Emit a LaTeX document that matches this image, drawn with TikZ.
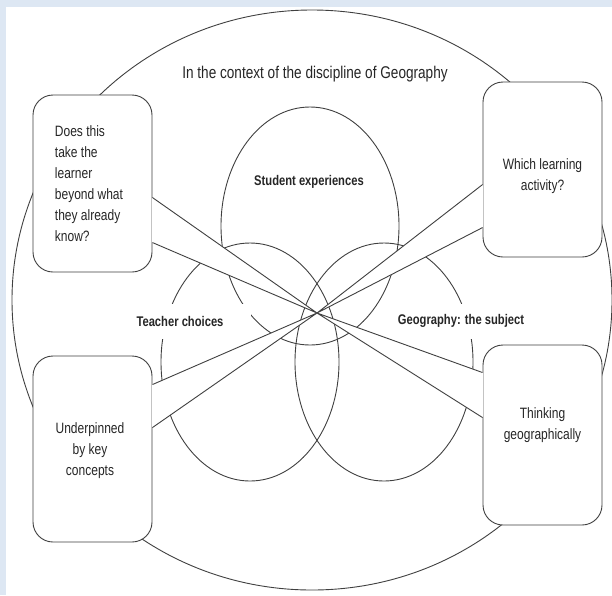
\documentclass[tikz,border=0pt]{standalone}
\usepackage{fontspec}
\setmainfont{Liberation Sans}[FakeStretch=0.8]
\usetikzlibrary{calc}

\definecolor{edgeblue}{RGB}{221,231,243}
\definecolor{inkgrey}{RGB}{64,64,64}

\tikzset{
  callbox/.style={draw=inkgrey, fill=white, rounded corners=20pt, inner sep=0pt},
  calltext/.style={text=black!85, font=\fontsize{15}{21}\selectfont},
  vennlabel/.style={fill=white, inner sep=0pt, minimum height=35pt, text=black!85,
    font=\bfseries\fontsize{14}{17}\selectfont},
}

\begin{document}
\begin{tikzpicture}[x=1pt, y=-1pt, line width=0.9pt]
            % Define sizes
            \def\vennX{89pt}
            \def\vennY{119pt}

            % Page and frame
            \useasboundingbox (0,0) rectangle (612,595);
            \fill [edgeblue] (0,0) rectangle (612,595);
            \fill [white] (6,7) rectangle (612,595);

            % Draw outer ellipse
            \draw [inkgrey] (312,300) ellipse [x radius=300pt, y radius=290pt];
            \node [text=black!85, font=\fontsize{17}{20}\selectfont] (context) at (315,74)
              {In the context of the discipline of Geography};

            % Draw the three ellipses
            \draw [inkgrey] (310,226) ellipse [x radius=\vennX, y radius=\vennY];
            \draw [inkgrey] (250,362) ellipse [x radius=\vennX, y radius=\vennY];
            \draw [inkgrey] (384,362) ellipse [x radius=\vennX, y radius=\vennY];

            % Label ellipses
            \node [text=black!85, font=\bfseries\fontsize{14}{17}\selectfont] (student) at (309,182) {Student experiences};
            \node [vennlabel, minimum width=142pt] (teacher) at (180,321.5) {Teacher choices};
            \node [vennlabel, minimum width=150pt] (subject) at (461,321) {Geography: the subject};

            % Common point of the callouts
            \coordinate (hub) at (317,313);

            % Top left callout
            \node [callbox, minimum width=119pt, minimum height=177pt] (tlbox) at (92.5,183.5) {};
            \fill [white] ($(tlbox.north east)+(-0.6,103)$) -- (hub) -- ($(tlbox.north east)+(-0.6,148)$) -- cycle;
            \draw [inkgrey] ($(tlbox.north east)+(0,103)$) -- (hub) ($(tlbox.north east)+(0,148)$) -- (hub);
            \node [calltext, align=left] (tltext) at (89,184)
              {Does this\\take the\\learner\\beyond what\\they already\\know?};

            % Top right callout
            \node [callbox, minimum width=119pt, minimum height=175pt] (trbox) at (542.5,169.5) {};
            \fill [white] ($(trbox.north west)+(0.6,103)$) -- (hub) -- ($(trbox.north west)+(0.6,146)$) -- cycle;
            \draw [inkgrey] ($(trbox.north west)+(0,103)$) -- (hub) ($(trbox.north west)+(0,146)$) -- (hub);
            \node [calltext, align=center] (trtext) at (542.5,176) {Which learning\\activity?};

            % Bottom left callout
            \node [callbox, minimum width=119pt, minimum height=186pt] (blbox) at (92.5,449) {};
            \fill [white] ($(blbox.north east)+(-0.6,29)$) -- (hub) -- ($(blbox.north east)+(-0.6,72)$) -- cycle;
            \draw [inkgrey] ($(blbox.north east)+(0,29)$) -- (hub) ($(blbox.north east)+(0,72)$) -- (hub);
            \node [calltext, align=center] (bltext) at (90,451) {Underpinned\\by key\\concepts};

            % Bottom right callout
            \node [callbox, minimum width=119pt, minimum height=180pt] (brbox) at (542.5,435) {};
            \fill [white] ($(brbox.north west)+(0.6,28)$) -- (hub) -- ($(brbox.north west)+(0.6,73)$) -- cycle;
            \draw [inkgrey] ($(brbox.north west)+(0,28)$) -- (hub) ($(brbox.north west)+(0,73)$) -- (hub);
            \node [calltext, align=center] (brtext) at (542.5,425) {Thinking\\geographically};

        \end{tikzpicture}
\end{document}
